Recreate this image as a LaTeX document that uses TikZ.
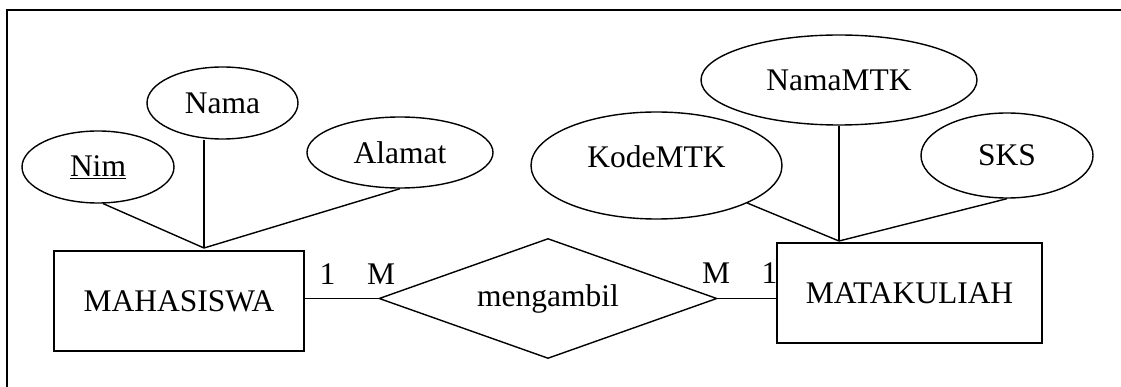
\documentclass[tikz,border=0pt]{standalone}
\usepackage{fontspec}
\setmainfont{Liberation Serif}
\usetikzlibrary{shapes.geometric}
\begin{document}
\begin{tikzpicture}[x=1pt,y=-1pt,
  every node/.style={font=\fontsize{31.5}{36}\selectfont, inner sep=0pt},
  entity/.style={draw, line width=1.4pt, rectangle},
  attr/.style={draw, line width=1.4pt, ellipse},
  rel/.style={draw, line width=1.4pt, diamond},
  conn/.style={line width=1.4pt},
  card/.style={}]
\useasboundingbox (0,0) rectangle (1121,387);
% frame
\coordinate (fl) at (7,387);
\coordinate (fc) at (7,10);
\coordinate (fr) at (1121,10);
\draw[line width=2.2pt] (fl) -- (fc) -- (fr);
% entities
\node[entity, minimum width=250pt, minimum height=100pt] (mhs) at (179,301) {MAHASISWA};
\node[entity, minimum width=265pt, minimum height=100pt] (mtk) at (909.5,293) {MATAKULIAH};
% relationship
\node[rel, minimum width=338pt, minimum height=120pt, aspect=2.5] (rel) at (548,298.5) {mengambil};
% attributes
\node[attr, minimum width=152pt, minimum height=72pt] (nim) at (98,167) {\underline{Nim}};
\node[attr, minimum width=151pt, minimum height=72pt] (nama) at (222.5,103) {Nama};
\node[attr, minimum width=186pt, minimum height=71pt] (alamat) at (400,152.5) {Alamat};
\node[attr, minimum width=276pt, minimum height=90pt] (namamtk) at (839,80) {NamaMTK};
\node[attr, minimum width=251pt, minimum height=107pt, text depth=18pt] (kode) at (656.5,165.5) {KodeMTK};
\node[attr, minimum width=172pt, minimum height=85pt] (sks) at (1007,155.5) {SKS};
% junctions
\coordinate (j1) at (204,248);
\coordinate (j2) at (839,241);
% attribute connectors
\draw[conn] (nim.-82) -- (j1);
\draw[conn] (j1 |- nama.south) -- (j1);
\draw[conn] (alamat.south) -- (j1);
\draw[conn] (kode) -- (j2);
\draw[conn] (namamtk.south) -- (j2);
\draw[conn] (sks.south) -- (j2);
% relationship connectors
\draw[conn] (rel.west) -- (rel.west -| mhs.east);
\draw[conn] (rel.east) -- (rel.east -| mtk.west);
% cardinalities
\node[card] (c1) at (327.5,274.5) {1};
\node[card] (c2) at (381,274.5) {M};
\node[card] (c3) at (716,273) {M};
\node[card] (c4) at (769.5,273) {1};
\end{tikzpicture}
\end{document}
